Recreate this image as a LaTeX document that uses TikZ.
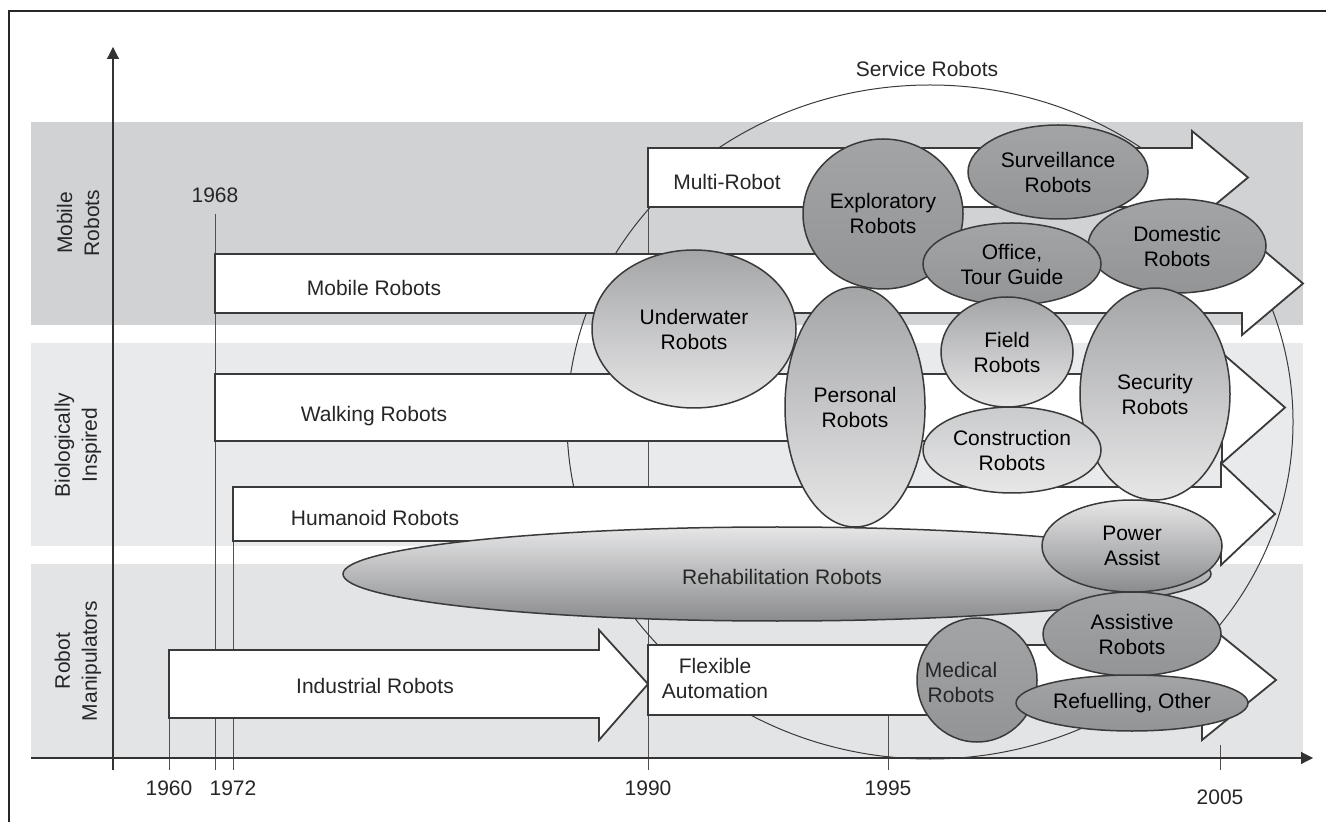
\documentclass[tikz,border=0pt]{standalone}
\usepackage{fontspec}
\setmainfont{Liberation Sans}
\usetikzlibrary{shapes.geometric,arrows.meta}
\definecolor{bandmob}{HTML}{D1D2D4}
\definecolor{bandbio}{HTML}{E9EAEB}
\definecolor{bandman}{HTML}{E3E4E6}
\definecolor{edge}{HTML}{3A3A3A}
\definecolor{linegray}{HTML}{505050}
\definecolor{darkA}{HTML}{A3A4A6}
\definecolor{darkB}{HTML}{939496}
\definecolor{midtop}{HTML}{A4A5A7}
\definecolor{lightbot}{HTML}{E7E7E8}
\definecolor{constop}{HTML}{CACBCD}
\definecolor{revtop}{HTML}{E6E6E7}
\definecolor{revbot}{HTML}{8A8B8D}
\newcommand\blkarrow[8]{% name, x0, ytop, ybot, xb, headtop, headbot, tipx
  \draw[blkarrowstyle] (#2,#3) -- (#5,#3) -- (#5,#6) -- (#8,{(#3+#4)/2}) coordinate (#1tip)
    -- (#5,#7) -- (#5,#4) -- (#2,#4) -- cycle;}
\begin{document}
\begin{tikzpicture}[x=0.5pt,y={(0pt,-0.5pt)},
  font=\fontsize{10.5pt}{12.5pt}\selectfont,
  blkarrowstyle/.style={fill=white,draw=edge,line width=0.9pt,line join=miter},
  tickline/.style={draw=linegray,line width=0.5pt},
  axisline/.style={draw=black!80,line width=0.55pt},
  ell/.style={shape=ellipse,draw=edge,line width=0.75pt,inner sep=0pt,align=center},
  darkfill/.style={top color=darkA,bottom color=darkB},
  gradfill/.style={top color=midtop,bottom color=lightbot},
  consfill/.style={top color=constop,bottom color=lightbot},
  revfill/.style={top color=revtop,bottom color=revbot},
  txt/.style={inner sep=0pt,align=center,text=black!85},
  bandlabel/.style={inner sep=0pt,align=center,rotate=90,text=black!85,
    font=\fontsize{10.5pt}{13.5pt}\selectfont}]
\useasboundingbox (0,0) rectangle (1326,822);
% frame
\draw[line width=0.6pt,black!85] (9,822) -- (9,11) -- (1326,11);
% bands
\fill[bandmob] (31,122) rectangle (1303,325);
\fill[bandbio] (31,343) rectangle (1303,546);
\fill[bandman] (31,564) rectangle (1303,758);
\node[bandlabel] (lmob) at (78,223) {Mobile\\Robots};
\node[bandlabel] (lbio) at (78,445) {Biologically\\Inspired};
\node[bandlabel] (lman) at (78,661) {Robot\\Manipulators};
% tick lines
\draw[tickline] (169,650) -- (169,770);
\draw[tickline] (215,214) -- (215,770);
\draw[tickline] (233,487) -- (233,770);
\draw[tickline] (648,180) -- (648,770);
\draw[tickline] (888,700) -- (888,770);
\draw[tickline] (1220,745) -- (1220,770);
% axes
\draw[axisline,-{Triangle[length=6pt,width=6pt]}] (113,770) -- (113,47);
\draw[axisline,-{Triangle[length=6pt,width=6pt]}] (31,758) -- (1313,758);
% year labels
\node[txt] (y1960) at (169,788) {1960};
\node[txt] (y1968) at (215,195) {1968};
\node[txt] (y1972) at (233,788) {1972};
\node[txt] (y1990) at (648,788) {1990};
\node[txt] (y1995) at (888,788) {1995};
\node[txt] (y2005) at (1220,797) {2005};
% service robots circle
\draw[draw=edge,line width=0.5pt] (930,422) ellipse [x radius=181.5pt,y radius=168.5pt];
\node[txt] (service) at (927,69) {Service Robots};
% block arrows
\blkarrow{multi}{648}{148}{207}{1192}{131}{224}{1248}
\blkarrow{mobile}{215}{254}{313}{1242}{232}{335}{1303}
\blkarrow{walking}{215}{374}{441}{1222}{353}{463}{1285}
\blkarrow{humanoid}{233}{487}{541}{1221}{463}{565}{1275}
\blkarrow{industrial}{169}{650}{718}{599}{630}{740}{648}
\blkarrow{flexible}{648}{645}{715}{1202}{620}{740}{1276}
\node[txt] (tmobile) at (374,288) {Mobile Robots};
\node[txt] (twalking) at (374,416) {Walking Robots};
\node[txt] (thumanoid) at (375,518) {Humanoid Robots};
\node[txt] (tindustrial) at (375,686) {Industrial Robots};
\node[txt] (tmulti) at (727,182) {Multi-Robot};
\node[txt] (tflexible) at (715,678) {Flexible\\Automation};
% ellipses
\node[ell,revfill,minimum width=434pt,minimum height=47pt] (rehab) at (777,574) {};
\node[txt] (trehab) at (782,577) {Rehabilitation Robots};
\node[ell,gradfill,minimum width=102pt,minimum height=79pt] (under) at (694,329) {Underwater\\Robots};
\node[ell,gradfill,minimum width=70pt,minimum height=120pt] (pers) at (855,407) {Personal\\Robots};
\node[ell,darkfill,minimum width=80pt,minimum height=75pt] (expl) at (883,214) {Exploratory\\Robots};
\node[ell,darkfill,minimum width=90pt,minimum height=47pt] (surv) at (1058,172) {Surveillance\\Robots};
\node[ell,darkfill,minimum width=89pt,minimum height=47pt] (dom) at (1177,246) {Domestic\\Robots};
\node[ell,darkfill,minimum width=89pt,minimum height=41pt] (office) at (1012,264) {Office,\\Tour Guide};
\node[ell,gradfill,minimum width=66pt,minimum height=55pt] (field) at (1007,352) {Field\\Robots};
\node[ell,gradfill,minimum width=75pt,minimum height=106pt] (sec) at (1155,394) {Security\\Robots};
\node[ell,consfill,minimum width=89pt,minimum height=43pt] (cons) at (1012,450) {Construction\\Robots};
\node[ell,revfill,minimum width=90pt,minimum height=46pt] (power) at (1132,546) {Power\\Assist};
\node[ell,darkfill,minimum width=89pt,minimum height=42pt] (assist) at (1132,634) {Assistive\\Robots};
\node[ell,darkfill,minimum width=60pt,minimum height=62pt] (med) at (977,680) {};
\node[txt] (tmed) at (961,682) {Medical\\Robots};
\node[ell,darkfill,minimum width=116pt,minimum height=28pt] (refuel) at (1132,703) {Refuelling, Other};
\end{tikzpicture}
\end{document}
